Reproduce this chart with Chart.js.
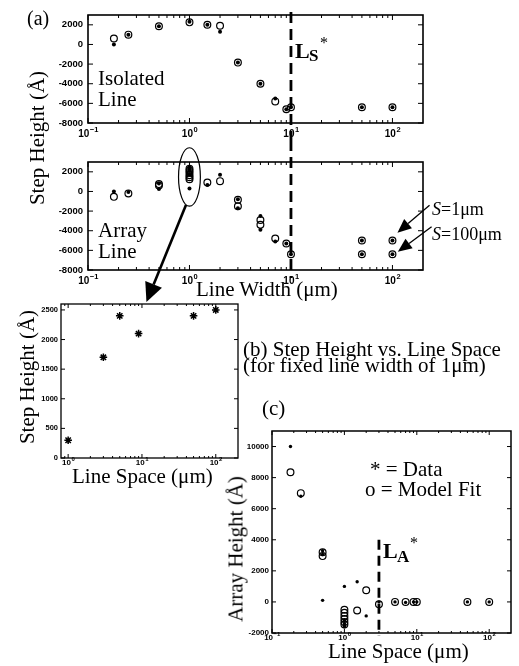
<!DOCTYPE html>
<html>
<head>
<meta charset="utf-8">
<script src="https://cdn.jsdelivr.net/npm/chart.js@4.4.1/dist/chart.umd.min.js"></script>
<style>
  html, body { margin: 0; padding: 0; background: #fff; }
  #fig { position: relative; width: 519px; height: 666px; overflow: hidden;
         font-family: 'Liberation Serif', 'Times New Roman', serif; color: #000; }
  #fig canvas { position: absolute; }
  .t { position: absolute; white-space: nowrap; line-height: 1; }
  .v { position: absolute; white-space: nowrap; line-height: 1; transform: translate(-50%, -50%) rotate(-90deg); }
  .b { font-weight: bold; }
</style>
</head>
<body>
<div id="fig">
  <canvas id="a1" width="519" height="140" style="left:0;top:0"></canvas>
  <canvas id="a2" width="519" height="150" style="left:0;top:140px"></canvas>
  <canvas id="pb" width="260" height="200" style="left:0;top:290px"></canvas>
  <canvas id="pc" width="279" height="246" style="left:240px;top:420px"></canvas>
  <canvas id="over" width="519" height="666" style="left:0;top:0"></canvas>

  <div class="t" style="left:27px;top:8px;font-size:20px">(a)</div>
  <div class="t" style="left:98px;top:68px;font-size:21px">Isolated</div>
  <div class="t" style="left:98px;top:89px;font-size:21px">Line</div>
  <div class="t" style="left:98px;top:220px;font-size:21px">Array</div>
  <div class="t" style="left:98px;top:241px;font-size:21px">Line</div>

  <div class="t b" style="left:295px;top:40px;font-size:22px">L</div>
  <div class="t b" style="left:309px;top:47px;font-size:17px">S</div>
  <div class="t" style="left:320px;top:35px;font-size:16px">*</div>

  <div class="t" style="left:432px;top:200px;font-size:18px"><i>S</i>=1μm</div>
  <div class="t" style="left:432px;top:225px;font-size:18px"><i>S</i>=100μm</div>

  <div class="v" style="left:37px;top:138px;font-size:21px">Step Height (Å)</div>
  <div class="t" style="left:196px;top:279px;font-size:21px">Line Width (μm)</div>

  <div class="v" style="left:27px;top:377px;font-size:21px">Step Height (Å)</div>
  <div class="t" style="left:72px;top:466px;font-size:21px">Line Space (μm)</div>

  <div class="t" style="left:243px;top:339px;font-size:21px">(b) Step Height vs. Line Space</div>
  <div class="t" style="left:243px;top:355px;font-size:21px">(for fixed line width of 1μm)</div>

  <div class="t" style="left:262px;top:398px;font-size:21px">(c)</div>
  <div class="t" style="left:370px;top:459px;font-size:21px">* = Data</div>
  <div class="t" style="left:365px;top:479px;font-size:21px">o = Model Fit</div>

  <div class="t b" style="left:383px;top:540px;font-size:22px">L</div>
  <div class="t b" style="left:397px;top:548px;font-size:17px">A</div>
  <div class="t" style="left:410px;top:535px;font-size:16px">*</div>

  <div class="v" style="left:236px;top:549px;font-size:21px">Array Height (Å)</div>
  <div class="t" style="left:328px;top:641px;font-size:21px">Line Space (μm)</div>
</div>

<script>
// ---- (a) isolated lines: step height vs line width
const isoWidth    = [0.18, 0.25, 0.5, 1, 1.5, 2, 3, 5, 7, 9, 10, 50, 100];
const isoMeasured = [0, 1000, 1850, 2300, 2000, 1300, -1850, -4000, -5500, -6600, -6400, -6400, -6400];
const isoModel    = [600, 1000, 1850, 2250, 2000, 1900, -1850, -4000, -5800, -6600, -6400, -6400, -6400];

// ---- (a) array lines (S = 1um and S = 100um mixed)
const arrWidthMeasured = [0.18, 0.25, 0.5, 0.5, 1, 1, 1, 1, 1, 1, 1.5, 2, 3, 3, 5, 5, 7, 9, 10, 50, 50, 100, 100];
const arrMeasured      = [0, -50, 800, 250, 300, 1700, 2400, 2100, 2400, 2500, 650, 1700, -800, -1700, -2500, -3900, -5100, -5300, -6400, -5000, -6400, -5000, -6400];
const arrWidthModel    = [0.18, 0.25, 0.5, 0.5, 1, 1, 1, 1, 1, 1, 1.5, 2, 3, 3, 5, 5, 7, 9, 10, 50, 50, 100, 100];
const arrModel         = [-550, -200, 750, 600, 2300, 2100, 1900, 1650, 1450, 1250, 900, 1050, -850, -1500, -2900, -3400, -4800, -5300, -6400, -5000, -6400, -5000, -6400];

// ---- (b) step height vs line space, width 1um
const spaceB = [1, 3, 5, 9, 50, 100];
const stepB  = [300, 1700, 2400, 2100, 2400, 2500];

// ---- (c) array height vs line space
const spaceCMeasured = [0.18, 0.25, 0.5, 0.5, 0.5, 1, 1, 1, 1, 1, 1.5, 2, 3, 5, 7, 9, 10, 50, 100];
const arrayCMeasured = [10000, 6800, 3300, 3050, 100, 1000, -1200, -1400, -1500, -1600, 1300, -900, 0, 0, -30, 0, 0, 0, 0];
const spaceCModel    = [0.18, 0.25, 0.5, 0.5, 1, 1, 1, 1, 1, 1, 1.5, 2, 3, 5, 7, 9, 10, 50, 100];
const arrayCModel    = [8350, 7000, 3200, 2950, -500, -700, -900, -1100, -1300, -1450, -550, 750, -150, 0, 0, 0, 0, 0, 0];

// ---- axes
const xTicksA = [0.1, 1, 10, 100];
const yTicksA = [-8000, -6000, -4000, -2000, 0, 2000];
const xTicksB = [1, 10, 100];
const yTicksB = [0, 500, 1000, 1500, 2000, 2500];
const xTicksC = [0.1, 1, 10, 100];
const yTicksC = [-2000, 0, 2000, 4000, 6000, 8000, 10000];

const criticalWidth = 10;   // Ls*
const criticalSpace = 3;    // LA*

const pts = (xs, ys) => xs.map((x, i) => ({ x: x, y: ys[i] }));
const dots = (d, r) => ({ data: d, pointStyle: 'circle', pointRadius: r, backgroundColor: '#000', borderColor: '#000', borderWidth: 0 });
const rings = (d, r) => ({ data: d, pointStyle: 'circle', pointRadius: r, backgroundColor: 'rgba(0,0,0,0)', borderColor: '#000', borderWidth: 1.2 });

// box, inward ticks and 10^n labels, matlab style
const frame = {
  id: 'frame',
  afterDatasetsDraw(chart, args, o) {
    const ctx = chart.ctx, a = chart.chartArea;
    const xs = chart.scales.x, ys = chart.scales.y;
    ctx.save();
    ctx.strokeStyle = '#000';
    ctx.lineWidth = 1;
    ctx.beginPath();
    const seg = (x0, y0, x1, y1) => { ctx.moveTo(x0, y0); ctx.lineTo(x1, y1); };
    xs.ticks.forEach(t => {
      const p = xs.getPixelForValue(t.value);
      seg(p, a.bottom, p, a.bottom - o.major); seg(p, a.top, p, a.top + o.major);
    });
    for (let d = Math.floor(Math.log10(xs.min)); d <= Math.ceil(Math.log10(xs.max)); d++) {
      for (let k = 2; k < 10; k++) {
        const v = k * Math.pow(10, d);
        if (v <= xs.min || v >= xs.max) continue;
        const p = xs.getPixelForValue(v);
        seg(p, a.bottom, p, a.bottom - o.minor); seg(p, a.top, p, a.top + o.minor);
      }
    }
    ys.ticks.forEach(t => {
      const p = ys.getPixelForValue(t.value);
      seg(a.left, p, a.left + o.major, p); seg(a.right, p, a.right - o.major, p);
    });
    ctx.stroke();
    ctx.lineWidth = o.border;
    ctx.strokeRect(a.left, a.top, a.right - a.left, a.bottom - a.top);

    ctx.fillStyle = '#000';
    ctx.textBaseline = 'alphabetic';
    ctx.textAlign = 'left';
    xs.ticks.forEach(t => {
      const e = Math.round(Math.log10(t.value));
      const es = e < 0 ? '\u2212' + (-e) : String(e);
      ctx.font = 'bold ' + o.font + 'px "Liberation Sans"';
      const w1 = ctx.measureText('10').width;
      ctx.font = 'bold ' + o.sup + 'px "Liberation Sans"';
      const w2 = ctx.measureText(es).width;
      const p = xs.getPixelForValue(t.value);
      const x0 = p - (w1 + w2) / 2, base = a.bottom + o.base;
      ctx.font = 'bold ' + o.font + 'px "Liberation Sans"';
      ctx.fillText('10', x0, base);
      ctx.font = 'bold ' + o.sup + 'px "Liberation Sans"';
      ctx.fillText(es, x0 + w1 + 0.5, base - o.raise);
    });
    ctx.restore();
  }
};

function vline(value, lw, dash, topOf, bottomOf) {
  return {
    id: 'vline',
    afterDatasetsDraw(chart) {
      const ctx = chart.ctx;
      const x = chart.scales.x.getPixelForValue(value);
      ctx.save();
      ctx.strokeStyle = '#000';
      ctx.lineWidth = lw;
      ctx.setLineDash(dash);
      ctx.beginPath();
      ctx.moveTo(x, topOf(chart));
      ctx.lineTo(x, bottomOf(chart));
      ctx.stroke();
      ctx.restore();
    }
  };
}

function makeChart(id, c, extra) {
  return new Chart(document.getElementById(id), {
    type: 'scatter',
    data: { datasets: c.datasets },
    options: {
      responsive: false,
      animation: false,
      devicePixelRatio: 1,
      events: [],
      layout: { padding: c.pad },
      plugins: { legend: { display: false }, tooltip: { enabled: false }, frame: c.frame },
      scales: {
        x: {
          type: 'logarithmic', min: c.xMin, max: c.xMax,
          grid: { display: false, drawTicks: false }, border: { display: false },
          ticks: { display: false },
          afterBuildTicks: s => { s.ticks = c.xTicks.map(v => ({ value: v })); },
          afterFit: s => { s.height = c.xH; }
        },
        y: {
          type: 'linear', min: c.yMin, max: c.yMax,
          grid: { display: false, drawTicks: false }, border: { display: false },
          ticks: {
            color: '#000', padding: c.yPad,
            font: { family: 'Liberation Sans', weight: 'bold', size: c.yFont },
            callback: v => String(v)
          },
          afterBuildTicks: s => { s.ticks = c.yTicks.map(v => ({ value: v })); },
          afterFit: s => { s.width = c.yW; }
        }
      }
    },
    plugins: [frame].concat(extra || [])
  });
}

function build() {
  const dash = [11, 6];
  const a1 = makeChart('a1', {
    datasets: [dots(pts(isoWidth, isoMeasured), 2), rings(pts(isoWidth, isoModel), 3.4)],
    pad: { left: 0, right: 96, top: 15, bottom: 0 },
    xMin: 0.1, xMax: 200, yMin: -8000, yMax: 3000,
    xTicks: xTicksA, yTicks: yTicksA, xH: 17, yW: 88, yFont: 9.5, yPad: 5,
    frame: { major: 5, minor: 3, border: 1.6, font: 10, sup: 7.5, base: 13.5, raise: 5 }
  }, [vline(criticalWidth, 2.8, dash, ch => ch.chartArea.top - 3, ch => ch.height)]);

  const a2 = makeChart('a2', {
    datasets: [dots(pts(arrWidthMeasured, arrMeasured), 2), rings(pts(arrWidthModel, arrModel), 3.4)],
    pad: { left: 0, right: 96, top: 22, bottom: 0 },
    xMin: 0.1, xMax: 200, yMin: -8000, yMax: 3000,
    xTicks: xTicksA, yTicks: yTicksA, xH: 20, yW: 88, yFont: 9.5, yPad: 5,
    frame: { major: 5, minor: 3, border: 1.6, font: 10, sup: 7.5, base: 13.5, raise: 5 }
  }, [vline(criticalWidth, 2.8, dash, ch => 0, ch => ch.chartArea.bottom + 8)]);

  const pb = makeChart('pb', {
    datasets: [{ data: pts(spaceB, stepB), pointStyle: 'star', pointRadius: 3.8, borderColor: '#000', borderWidth: 1.5, backgroundColor: '#000' }],
    pad: { left: 0, right: 22, top: 14, bottom: 0 },
    xMin: 0.8, xMax: 200, yMin: 0, yMax: 2600,
    xTicks: xTicksB, yTicks: yTicksB, xH: 32, yW: 61, yFont: 7.5, yPad: 3,
    frame: { major: 4, minor: 2, border: 1.3, font: 8, sup: 6, base: 7, raise: 4 }
  });

  const pc = makeChart('pc', {
    datasets: [dots(pts(spaceCMeasured, arrayCMeasured), 1.7), rings(pts(spaceCModel, arrayCModel), 3.4)],
    pad: { left: 0, right: 8, top: 11, bottom: 0 },
    xMin: 0.1, xMax: 200, yMin: -2000, yMax: 11000,
    xTicks: xTicksC, yTicks: yTicksC, xH: 33, yW: 32, yFont: 8, yPad: 3,
    frame: { major: 4, minor: 2, border: 1.5, font: 8, sup: 6, base: 7.2, raise: 4 }
  }, [vline(criticalSpace, 2.8, [10, 6], ch => ch.scales.y.getPixelForValue(4000), ch => ch.chartArea.bottom + 3)]);

  drawOverlay(a2, pb);
}

// ---- annotations: zoom ellipse, arrow to (b), S labels arrows
const zoomEllipse = { xLo: 0.78, xHi: 1.28, yLo: -1500, yHi: 4450 };
const zoomArrowTip = { x: 11.5 };          // on top edge of panel (b)
const sArrowTails = [{ x: 232, y: -1400 }, { x: 243, y: -3600 }];
const sArrowTips  = [{ x: 112, y: -4200 }, { x: 113, y: -6150 }];

function arrow(ctx, x0, y0, x1, y1, lw, hl, hw) {
  const ang = Math.atan2(y1 - y0, x1 - x0);
  const bx = x1 - hl * Math.cos(ang), by = y1 - hl * Math.sin(ang);
  ctx.lineWidth = lw;
  ctx.beginPath();
  ctx.moveTo(x0, y0);
  ctx.lineTo(bx, by);
  ctx.stroke();
  ctx.beginPath();
  ctx.moveTo(x1, y1);
  ctx.lineTo(bx + hw * Math.sin(ang), by - hw * Math.cos(ang));
  ctx.lineTo(bx - hw * Math.sin(ang), by + hw * Math.cos(ang));
  ctx.closePath();
  ctx.fill();
}

function drawOverlay(a2, pb) {
  const ctx = document.getElementById('over').getContext('2d');
  ctx.strokeStyle = '#000';
  ctx.fillStyle = '#000';
  const ox = a2.canvas.offsetLeft, oy = a2.canvas.offsetTop;
  const X = v => ox + a2.scales.x.getPixelForValue(v);
  const Y = v => oy + a2.scales.y.getPixelForValue(v);

  const l = X(zoomEllipse.xLo), r = X(zoomEllipse.xHi);
  const t = Y(zoomEllipse.yHi), b = Y(zoomEllipse.yLo);
  const cx = (l + r) / 2, cy = (t + b) / 2, rx = (r - l) / 2, ry = (b - t) / 2;
  ctx.lineWidth = 1.2;
  ctx.beginPath();
  ctx.ellipse(cx, cy, rx, ry, 0, 0, Math.PI * 2);
  ctx.stroke();

  const th = Math.PI * 0.6;
  const sx = cx + rx * Math.cos(th), sy = cy + ry * Math.sin(th);
  const tx = pb.canvas.offsetLeft + pb.scales.x.getPixelForValue(zoomArrowTip.x);
  const ty = pb.canvas.offsetTop + pb.chartArea.top - 2;
  arrow(ctx, sx, sy, tx, ty, 2.6, 19, 9);

  sArrowTails.forEach((p, i) => {
    arrow(ctx, X(p.x), Y(p.y), X(sArrowTips[i].x), Y(sArrowTips[i].y), 1.3, 14, 6);
  });
}

Promise.all(['bold 9px "Liberation Sans"', '21px "Liberation Serif"'].map(f => document.fonts.load(f)))
  .then(build, build);
</script>
</body>
</html>
